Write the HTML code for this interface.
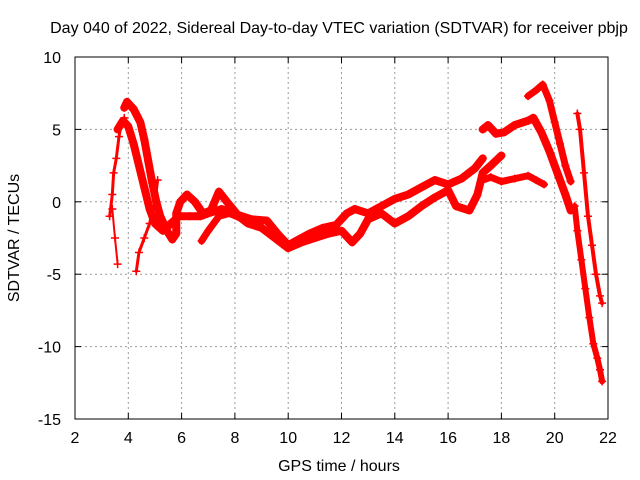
<!DOCTYPE html>
<html><head><meta charset="utf-8"><style>
body{margin:0;background:#fff}
svg{display:block;font-family:"Liberation Sans",sans-serif}
</style></head><body>
<svg id="chart" width="640" height="480" viewBox="0 0 640 480">
<rect width="640" height="480" fill="#fff"/>
<text x="339" y="33" font-size="16" text-anchor="middle">Day 040 of 2022, Sidereal Day-to-day VTEC variation (SDTVAR) for receiver pbjp</text>
<text x="339" y="471" font-size="16" text-anchor="middle">GPS time / hours</text>
<text transform="translate(19,238) rotate(-90)" font-size="16" text-anchor="middle">SDTVAR / TECUs</text>
<g id="grid"></g>
<g id="ticks"></g>
<g id="series"></g>
<rect x="75" y="57" width="533" height="362" fill="none" stroke="#000" stroke-width="1"/>
</svg>
<script>
const xTicks=[2,4,6,8,10,12,14,16,18,20,22];
const yTicks=[10,5,0,-5,-10,-15];
const t1=[[3.3,-1],[3.4,0.5],[3.45,2],[3.55,3],[3.65,4.5],[3.75,5.5],[3.85,5.8]];
const t1b=[[3.4,-0.5],[3.5,-2.5],[3.6,-4.3]];
const t2=[[3.85,6.5],[3.95,6.9],[4.2,6.4],[4.45,5.5],[4.6,4.3],[4.75,2.8],[4.9,1.3],[5.05,0],[5.2,-1],[5.45,-2],[5.65,-2.6],[5.8,-2.2],[5.8,-0.8],[5.95,0],[6.2,0.5],[6.5,0],[6.8,-0.8],[7.1,-0.6],[7.4,0.7],[7.7,0],[8.1,-0.9],[8.6,-1.2],[9.2,-1.3],[9.6,-2.2],[10,-3],[10.4,-2.6],[10.8,-2.2],[11.3,-1.8],[11.8,-1.6],[12.2,-0.8],[12.5,-0.5],[13,-0.8],[13.5,-0.3],[14,0.2],[14.5,0.5],[15,1],[15.5,1.5],[16,1.2],[16.5,1.6],[17,2.3],[17.3,3]];
const t3=[[3.6,5],[3.8,5.6],[4.0,5.2],[4.2,4],[4.4,2.5],[4.6,1],[4.8,-0.5],[5.0,-1.5],[5.3,-2],[5.6,-1.5],[5.9,-1],[6.3,-1],[6.7,-1],[7.0,-0.8],[7.5,-0.5],[8,-0.8],[8.5,-1.5],[9,-1.8],[9.5,-2.5],[10,-3.2],[10.5,-2.8],[11,-2.5],[11.5,-2.2],[12,-2],[12.4,-2.8],[12.7,-2.2],[13,-1.2],[13.5,-0.8],[14,-1.5],[14.5,-1],[15,-0.3],[15.5,0.3],[16,0.8],[16.3,-0.3],[16.8,-0.6],[17.1,0.5],[17.3,2],[17.6,2.5],[18,3.2]];
const t4=[[6.75,-2.7],[7.0,-2.0],[7.4,-1.0],[7.8,-0.8],[8.3,-1.2]];
const t5=[[4.3,-4.8],[4.4,-3.5],[4.6,-2.5],[4.8,-1.5],[5.0,0],[5.1,1.5]];
const t6=[[17.3,5],[17.5,5.3],[17.8,4.7],[18.1,4.8],[18.5,5.3],[19,5.6],[19.2,5.8],[19.5,4.8],[19.8,3.5],[20.1,2],[20.4,0.5],[20.6,-0.6]];
const t7=[[17.3,1.5],[17.6,1.7],[18,1.4],[18.5,1.6],[19,1.8],[19.3,1.5],[19.6,1.2]];
const t8=[[19,7.3],[19.3,7.7],[19.55,8.1],[19.8,7.0],[20,5.5],[20.2,4],[20.4,2.5],[20.6,1.4]];
const t9=[[20.85,6.1],[20.95,5],[21.1,2],[21.25,-1],[21.4,-3],[21.55,-5],[21.7,-6.5],[21.78,-7]];
const t10=[[20.75,-0.3],[20.85,-2],[21,-4],[21.15,-6],[21.3,-8],[21.45,-9.8],[21.6,-10.8],[21.7,-11.6],[21.78,-12.4]];
const seriesList=[t1,t1b,t2,t3,t4,t5,t6,t7,t8,t9,t10];
const seriesWidths=[3,2,8,8,7,3,8,7,7,4,6];

const NS="http://www.w3.org/2000/svg";
const X0=75,X1=608,Y0=419,Y1=57;
function sx(t){return X0+(t-2)/(22-2)*(X1-X0);}
function sy(v){return Y0-(v+15)/(10+15)*(Y0-Y1);}
function mk(tag,attrs,parent){const e=document.createElementNS(NS,tag);for(const k in attrs)e.setAttribute(k,attrs[k]);parent.appendChild(e);return e;}
const grid=document.getElementById('grid'),ticks=document.getElementById('ticks'),ser=document.getElementById('series');
xTicks.forEach(t=>{
  const x=sx(t);
  if(t>2&&t<22){const g=mk('line',{x1:x,x2:x,y1:Y1,y2:Y0,stroke:'#999','stroke-dasharray':'2,3'},grid);
  
  }
  mk('line',{x1:x,x2:x,y1:Y0,y2:Y0-6,stroke:'#000'},ticks);
  mk('line',{x1:x,x2:x,y1:Y1,y2:Y1+6,stroke:'#000'},ticks);
  const l=mk('text',{x:x,y:Y0+24,'font-size':16,'text-anchor':'middle'},ticks);
  l.textContent=t;
  
  
});
yTicks.forEach(v=>{
  const y=sy(v);
  if(v<10&&v>-15){const g=mk('line',{x1:X0,x2:X1,y1:y,y2:y,stroke:'#999','stroke-dasharray':'2,3'},grid);
  
  }
  mk('line',{x1:X0,x2:X0+6,y1:y,y2:y,stroke:'#000'},ticks);
  mk('line',{x1:X1,x2:X1-6,y1:y,y2:y,stroke:'#000'},ticks);
  const l=mk('text',{x:X0-14,y:y+6,'font-size':16,'text-anchor':'end'},ticks);
  l.textContent=v;
  
  
});
seriesList.forEach((s,i)=>{
  const pts=s.map(p=>sx(p[0])+','+sy(p[1])).join(' ');
  const pl=mk('polyline',{points:pts,fill:'none',stroke:'#f00','stroke-width':seriesWidths[i],'stroke-linejoin':'round','stroke-linecap':'round'},ser);
  
  
  s.forEach(p=>{
    const x=sx(p[0]),y=sy(p[1]);
    const m=mk('path',{d:`M${x-4},${y}H${x+4}M${x},${y-4}V${y+4}`,stroke:'#f00','stroke-width':1.5},ser);
    
    
  });
});
</script>
</body></html>
